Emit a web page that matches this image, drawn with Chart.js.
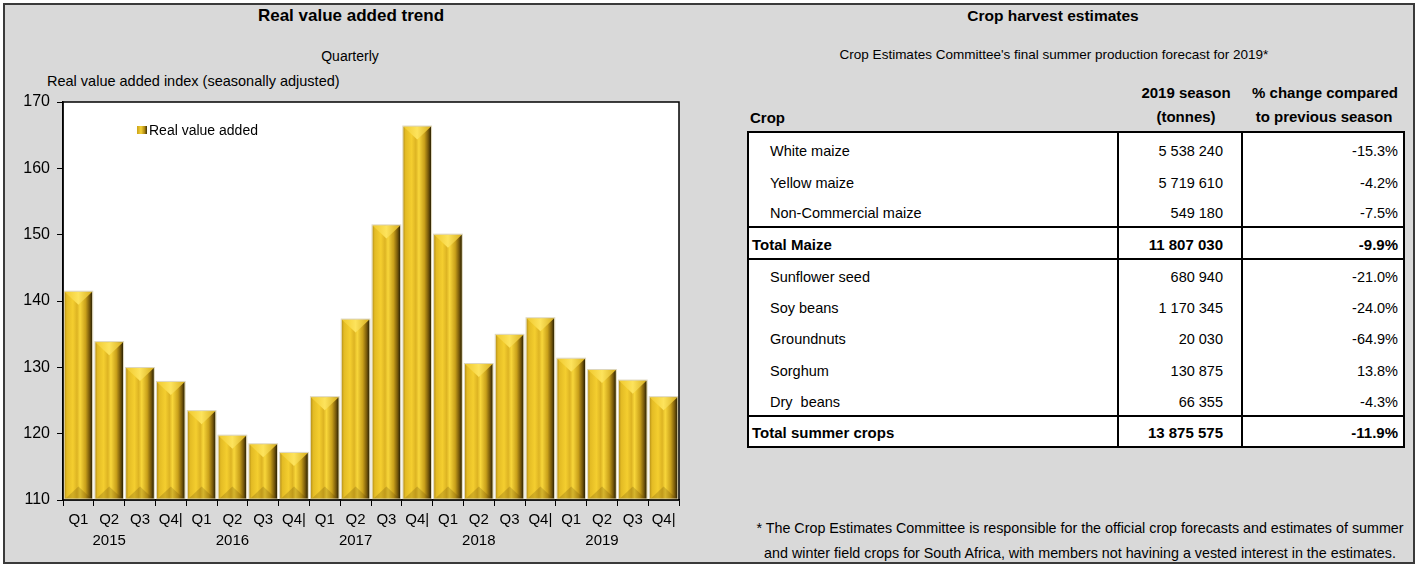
<!DOCTYPE html>
<html>
<head>
<meta charset="utf-8">
<script src="https://cdn.jsdelivr.net/npm/chart.js@4.4.1/dist/chart.umd.min.js"></script>
<style>
  html, body { margin:0; overflow:hidden; }
  body { width:1418px; height:565px; position:relative; background:#fff;
         font-family:'Liberation Sans',Arial,sans-serif; color:#000; }
  #frame { position:absolute; left:3px; top:3px; width:1412px; height:561px; box-sizing:border-box;
           border:2px solid #3a3a3a; background:#d9d9d9; }
  #chartBox { position:absolute; left:0; top:0; width:720px; height:565px; }
  .t { position:absolute; white-space:nowrap; line-height:20px; height:20px; font-size:14.5px; }
  .c { text-align:center; }
  .b { font-weight:bold; font-size:15px; }
  .ttl { font-weight:bold; }
  #legIcon { position:absolute; left:137px; top:126px; width:10px; height:8px;
             background:linear-gradient(90deg,#c9a21b,#f5d236 40%,#b08a14 75%,#3a2e05); }
  table#crops { position:absolute; left:747px; top:131px; width:656px; border-collapse:collapse;
                table-layout:fixed; background:#fff; font-size:14.5px; border:2px solid #000; }
  #crops td { padding:0 0 4px 0; vertical-align:bottom; line-height:18px; white-space:nowrap; }
  #crops td.n, #crops td.p { border-left:2px solid #000; text-align:right; }
  #crops td.n { padding-right:18px; }
  #crops td.p { padding-right:5px; }
  #crops td.k { padding-left:21px; }
  #crops tr.tot td { font-weight:bold; font-size:15px; }
  #crops tr.tot td.k { padding-left:3px; }
  #crops tr.sep td { border-top:2px solid #000; }
</style>
</head>
<body>
<div id="frame"></div>

<div class="t ttl c" style="left:151px;width:400px;top:6px;font-size:17px;">Real value added trend</div>
<div class="t c" style="left:150px;width:400px;top:46px;font-size:14px;">Quarterly</div>
<div class="t" style="left:47px;top:71px;">Real value added index (seasonally adjusted)</div>

<div id="chartBox"><canvas id="chart"></canvas></div>
<div id="legIcon"></div>
<div class="t" style="left:149px;top:120px;font-size:14px;">Real value added</div>

<div class="t ttl c" style="left:853px;width:400px;top:6px;font-size:15.5px;">Crop harvest estimates</div>
<div class="t c" style="left:754px;width:600px;top:45px;font-size:13.5px;">Crop Estimates Committee's final summer production forecast for 2019*</div>

<div class="t b" style="left:750px;top:108px;">Crop</div>
<div class="t b c" style="left:1086px;width:200px;top:83px;">2019 season</div>
<div class="t b c" style="left:1086px;width:200px;top:107px;">(tonnes)</div>
<div class="t b c" style="left:1225px;width:200px;top:83px;">% change compared</div>
<div class="t b c" style="left:1224px;width:200px;top:107px;">to previous season</div>

<table id="crops">
  <colgroup><col style="width:370px"><col style="width:124px"><col style="width:162px"></colgroup>
  <tbody id="cropBody"></tbody>
</table>

<div class="t c" style="left:730px;width:700px;top:518px;font-size:14.3px;">* The Crop Estimates Committee is responsible for the official crop forecasts and estimates of summer</div>
<div class="t c" style="left:730px;width:700px;top:543px;font-size:14.3px;">and winter field crops for South Africa, with members not havining a vested interest in the estimates.</div>

<script>
// chart data
const quarterLabels = ['Q1', 'Q2', 'Q3', 'Q4|', 'Q1', 'Q2', 'Q3', 'Q4|', 'Q1', 'Q2', 'Q3', 'Q4|',
                       'Q1', 'Q2', 'Q3', 'Q4|', 'Q1', 'Q2', 'Q3', 'Q4|'];
const yearLabels = ['', '2015', '', '', '', '2016', '', '', '', '2017', '', '',
                    '', '2018', '', '', '', '2019', '', ''];
const realValueAdded = [141.4, 133.8, 129.9, 127.8,
                        123.4, 119.7, 118.4, 117.1,
                        125.5, 137.2, 151.4, 166.3,
                        150.0, 130.5, 134.9, 137.4,
                        131.3, 129.6, 128.0, 125.5];
const yMin = 110, yMax = 170, yStep = 10;

// table data
const crops = ['White maize', 'Yellow maize', 'Non-Commercial maize', 'Total Maize',
               'Sunflower seed', 'Soy beans', 'Groundnuts', 'Sorghum', 'Dry  beans', 'Total summer crops'];
const tonnes2019 = ['5 538 240', '5 719 610', '549 180', '11 807 030',
                    '680 940', '1 170 345', '20 030', '130 875', '66 355', '13 875 575'];
const pctChange = ['-15.3%', '-4.2%', '-7.5%', '-9.9%',
                   '-21.0%', '-24.0%', '-64.9%', '13.8%', '-4.3%', '-11.9%'];
const totalRows = [3, 9];
const rowHeights = [32, 32, 31, 32, 31, 31, 31, 32, 32, 31];

const body = document.getElementById('cropBody');
body.innerHTML = crops.map((c, i) => {
  const cls = [];
  if (totalRows.includes(i)) cls.push('tot');
  if (totalRows.includes(i) || totalRows.includes(i - 1)) cls.push('sep');
  return `<tr class="${cls.join(' ')}" style="height:${rowHeights[i]}px">
    <td class="k">${c.replace(/  /g, '&nbsp; ')}</td><td class="n">${tonnes2019[i]}</td><td class="p">${pctChange[i]}</td></tr>`;
}).join('');

Chart.defaults.font.family = "'Liberation Sans',Arial,sans-serif";
Chart.defaults.font.size = 15;
Chart.defaults.color = '#000';

// gold bevelled bars, painted over each bar the library has placed
const goldBars = {
  id: 'goldBars',
  beforeDraw(chart) {
    const { ctx, chartArea: a } = chart;
    ctx.save();
    ctx.fillStyle = '#fff';
    ctx.fillRect(a.left, a.top, a.right - a.left, a.bottom - a.top);
    ctx.restore();
  },
  afterDatasetsDraw(chart) {
    const { ctx, chartArea: a } = chart;
    ctx.save();
    ctx.beginPath();
    ctx.rect(a.left, a.top, a.right - a.left, a.bottom - a.top);
    ctx.clip();
    chart.getDatasetMeta(0).data.forEach(bar => {
      const { x, y, base, width } = bar.getProps(['x', 'y', 'base', 'width'], true);
      const l = x - width / 2, r = x + width / 2, h = base - y;
      const g = ctx.createLinearGradient(l, 0, r, 0);
      g.addColorStop(0, '#b8921a');
      g.addColorStop(0.08, '#e3bb24');
      g.addColorStop(0.3, '#f4ce2f');
      g.addColorStop(0.45, '#ddb423');
      g.addColorStop(0.56, '#f8d63a');
      g.addColorStop(0.76, '#c9a01a');
      g.addColorStop(0.9, '#77590b');
      g.addColorStop(1, '#2a2103');
      ctx.fillStyle = g;
      ctx.fillRect(l, y, width, h);

      const ch = Math.min(width * 0.47, h / 2);
      // top chevron
      const tg = ctx.createLinearGradient(l, 0, r, 0);
      tg.addColorStop(0, '#f0c92c');
      tg.addColorStop(0.5, '#fde35c');
      tg.addColorStop(1, '#d8af1f');
      ctx.fillStyle = tg;
      ctx.beginPath();
      ctx.moveTo(l, y); ctx.lineTo(r, y); ctx.lineTo(x, y + ch); ctx.closePath();
      ctx.fill();
      // bottom bevel
      ctx.fillStyle = 'rgba(90,65,0,0.22)';
      ctx.beginPath();
      ctx.moveTo(l, base); ctx.lineTo(r, base); ctx.lineTo(x, base - ch); ctx.closePath();
      ctx.fill();
      // pale outline
      ctx.strokeStyle = '#ddd6bc';
      ctx.lineWidth = 1;
      ctx.strokeRect(l - 0.5, y - 0.5, width + 1, h);
    });
    ctx.restore();
  },
  afterDraw(chart) {
    const { ctx, chartArea: a } = chart;
    ctx.save();
    ctx.strokeStyle = '#000';
    ctx.lineWidth = 1.5;
    ctx.strokeRect(a.left, a.top, a.right - a.left, a.bottom - a.top);
    ctx.restore();
  }
};

new Chart(document.getElementById('chart'), {
  type: 'bar',
  data: {
    labels: quarterLabels.map((q, i) => yearLabels[i] ? [q, yearLabels[i]] : q),
    datasets: [{
      label: 'Real value added',
      data: realValueAdded,
      base: yMin,
      backgroundColor: '#e0b823',
      borderWidth: 0,
      categoryPercentage: 1,
      barPercentage: 0.9
    }]
  },
  options: {
    responsive: true,
    maintainAspectRatio: false,
    animation: false,
    layout: { padding: { left: 23, top: 102, right: 41, bottom: 10 } },
    plugins: { legend: { display: false }, tooltip: { enabled: false } },
    scales: {
      x: {
        grid: { drawOnChartArea: false, drawTicks: true, tickLength: 6, color: '#000', offset: true },
        border: { color: '#000', width: 1.5 },
        ticks: { autoSkip: false, maxRotation: 0, padding: 4, font: { size: 15, lineHeight: 1.35 } },
        afterFit: s => { s.height = 55; }
      },
      y: {
        min: yMin,
        max: yMax,
        grid: { drawOnChartArea: false, drawTicks: true, tickLength: 6, color: '#000' },
        border: { color: '#000', width: 1.5 },
        ticks: { stepSize: yStep, padding: 7, font: { size: 16 } },
        afterFit: s => { s.width = 40; }
      }
    }
  },
  plugins: [goldBars]
});
</script>
</body>
</html>
